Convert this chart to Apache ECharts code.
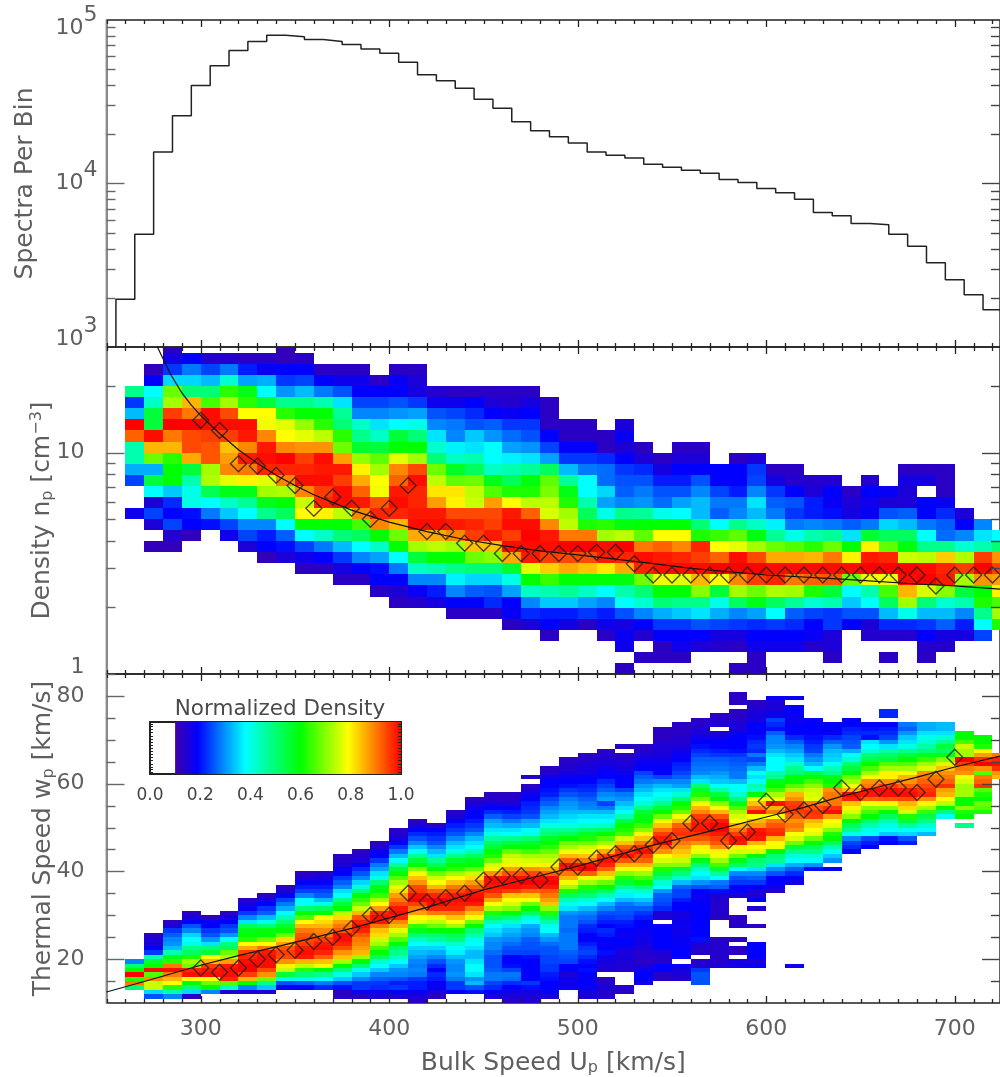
<!DOCTYPE html>
<html><head><meta charset="utf-8">
<style>html,body{margin:0;padding:0;background:#fff;overflow:hidden}#c{width:1000px;height:1077px}</style>
<script src="https://cdn.jsdelivr.net/npm/echarts@6/dist/echarts.min.js"></script>
</head><body><div id="c"></div>
<script>
// ---- data ----
const binCenters=[260,270,280,290,300,310,320,330,340,350,360,370,380,390,400,410,420,430,440,450,460,470,480,490,500,510,520,530,540,550,560,570,580,590,600,610,620,630,640,650,660,670,680,690,700,710,720];
const spectraPerBin=[1958,4897,15570,25930,39810,52480,65160,73960,80800,79070,75860,73960,70900,66400,62500,55080,46200,42500,38200,32800,28900,23900,21000,19300,17660,15560,14900,14300,13130,12590,12070,11570,10580,10130,9310,8770,8020,6640,6340,5690,5590,4900,4130,3270,2580,2090,1690];
const meanSpeeds=[300,310,320,330,340,350,360,370,380,390,400,410,420,430,440,450,460,470,480,490,500,510,520,530,540,550,560,570,580,590,600,610,620,630,640,650,660,670,680,690,700,710,720];
const meanDensity=[14.0,12.6,8.9,8.7,7.9,7.1,5.6,6.3,5.6,5.0,5.6,7.1,4.4,4.4,3.9,3.9,3.5,3.5,3.5,3.5,3.5,3.55,3.55,3.15,2.8,2.8,2.8,2.8,2.8,2.8,2.8,2.8,2.8,2.8,2.8,2.8,2.8,2.8,2.8,2.5,2.8,2.8,2.8];
const meanThermal=[18,17,18,20,21,22,24,25,27,30,30,35,33,34,35,38,39,39,38,41,41,43,44,44,46,47,51,51,47,49,56,53,54,55,59,58,59,59,58,61,66];
const densityFitX=[277,284,290,295,300,310,320,330,340,350,360,380,400,420,440,460,480,500,520,540,560,600,640,680,700,724];
const densityFitY=[30,22.6,18.6,16.4,14.7,12.2,10.3,8.95,7.9,7.1,6.45,5.5,4.85,4.4,4.05,3.8,3.6,3.45,3.3,3.15,3.0,2.8,2.68,2.55,2.5,2.42];
const thermalFitX=[250,270,300,320,340,360,380,400,420,450,480,500,520,540,560,580,600,620,640,660,680,700,724];
const thermalFitY=[12.5,14.9,18.6,20.8,22.8,24.9,27,29.4,31.8,35.8,39,41.2,43.6,46,48.1,50.2,52.4,54.6,57.1,59.3,61.5,63.8,66.3];
// normalized density in percent; each column: top bin index, then bins going downward
const densityColumns=[
[25,48,23,33,100,92,45,45,32,24,0,0,17],
[27,12,19,38,43,55,55,99,85,68,32,55,38,15,24,15,0,12],
[29,13,16,23,35,68,72,95,100,90,85,63,60,60,34,22,19,24,14,12],
[28,19,28,35,50,85,90,100,94,94,86,55,45,40,40,20,19,12],
[28,14,24,33,50,65,99,99,95,93,93,72,73,53,38,28,20],
[28,14,28,42,63,72,94,99,95,84,87,89,77,58,43,34,24,17],
[28,13,21,31,58,63,79,99,98,89,98,90,80,58,47,38,29,24,15],
[28,13,18,32,38,55,79,78,89,98,99,97,77,72,58,48,29,21,19,12],
[29,12,12,19,23,30,48,63,77,79,89,100,97,89,73,60,52,38,26,20,15],
[28,13,19,24,33,48,60,71,77,88,95,97,99,89,75,79,60,38,24,17,13],
[27,13,19,28,45,60,63,74,88,99,98,99,95,97,80,60,43,28,19,13],
[27,13,17,25,36,47,50,63,68,87,98,95,99,99,74,60,50,33,23,16,13],
[27,13,17,19,24,29,43,48,56,71,80,86,92,98,89,65,52,38,29,19,13],
[26,13,19,24,29,36,43,55,67,72,79,78,93,97,89,60,43,31,20,19,13],
[27,13,18,19,25,30,38,55,60,77,89,92,98,99,97,85,68,60,38,28,19,15,13],
[27,13,15,16,23,31,40,50,60,72,94,99,97,97,98,99,86,72,55,43,29,18,14],
[25,14,17,25,29,36,42,50,68,74,81,87,98,99,86,74,60,45,29,21,16],
[25,13,17,24,28,29,37,43,57,67,81,80,94,98,89,72,60,48,37,29,19,13],
[25,13,19,22,25,34,36,45,52,68,74,75,94,97,95,84,68,50,35,26,19,13],
[25,13,15,19,26,30,38,38,43,58,66,87,94,95,98,84,70,50,35,25,22,13],
[25,13,14,18,23,27,31,37,45,52,62,79,98,99,95,99,86,56,40,31,19,18,13],
[25,13,16,19,23,25,30,36,47,59,62,74,92,99,100,99,98,77,60,43,29,22,15],
[24,13,13,13,19,24,31,52,67,69,74,76,89,98,99,95,83,64,45,34,21,19,13],
[22,13,13,19,23,33,47,58,62,72,74,90,100,94,86,60,47,34,21,16],
[22,13,13,19,23,28,38,38,45,52,62,90,100,94,84,60,43,31,23,13],
[21,13,13,22,27,27,35,31,40,63,72,99,98,81,60,38,29,21,17,13],
[22,15,18,15,19,23,25,26,29,48,59,74,100,97,86,59,45,38,25,16,18,17,0,13],
[20,13,15,22,25,28,30,47,60,67,90,99,97,68,50,42,29,19,14,0,13],
[19,13,16,21,25,27,40,60,79,92,98,99,78,60,50,32,23,19,13,13],
[20,13,15,19,21,25,31,38,60,79,89,97,99,77,60,48,34,23,19,17,13],
[20,13,15,19,25,29,33,33,50,62,97,95,99,85,70,48,36,25,19,15],
[18,19,19,24,28,26,38,64,79,92,100,79,55,40,32,24,16,14],
[19,13,19,19,21,28,29,48,67,77,99,100,89,72,52,29,23,16,13,0,13],
[19,15,23,24,29,36,33,43,59,72,94,100,95,68,58,31,22,19,17,13,13],
[18,13,16,23,26,28,37,47,68,86,99,97,73,52,38,23,19,17],
[18,13,14,19,25,23,28,40,66,86,99,90,72,47,26,22,19,17],
[17,14,15,21,21,29,45,63,85,99,92,62,42,24,19,18,14],
[17,14,19,18,20,28,47,68,90,99,93,55,45,23,23,15,15,13],
[16,13,15,16,26,36,60,80,99,68,38,34,25,19],
[17,14,19,17,18,28,56,80,98,100,78,45,38,25,15,14],
[16,18,15,25,35,52,67,97,100,78,65,52,33,22,14,0,13],
[18,13,16,15,15,26,33,52,59,75,100,99,85,72,40,22,14],
[18,13,16,0,19,19,28,38,48,74,99,100,76,50,33,23,19,14,13],
[18,13,13,13,18,22,26,27,48,83,97,98,70,42,33,26,16,14],
[14,15,19,29,42,73,95,72,55,45,29,21,16],
[13,29,36,45,95,100,88,60,62,48,38,24],
[12,38,50,88,95,87,80,65,72,62]];
const thermalColumns=[
[19,29,50,60,100,62,90,50],
[25,13,15,15,18,23,45,56,60,99,66,88,75,75,35,25],
[28,13,15,23,26,29,30,33,45,58,63,90,99,90,85,79,63,45,29],
[30,13,15,19,25,29,35,38,40,48,52,62,72,68,97,99,79,60,50,35,13],
[29,13,18,19,23,25,30,36,50,55,79,85,95,98,99,79,68,60,29],
[30,13,16,19,23,25,30,38,50,52,68,74,87,98,99,99,97,66,43,15],
[33,13,16,18,23,29,36,52,58,60,63,79,86,95,97,99,100,100,95,85,60,29,15],
[34,13,16,19,23,26,33,40,50,59,60,68,79,90,98,99,99,99,94,88,68,47,34,15],
[36,13,15,19,24,28,32,38,45,50,56,60,68,82,87,93,95,94,88,80,75,55,40,25,18],
[39,13,15,18,21,24,29,38,38,50,60,66,79,85,90,93,94,95,98,99,98,85,74,63,50,40,26,19],
[39,14,16,18,21,24,26,33,40,52,60,79,82,85,89,90,95,98,99,97,92,84,78,60,48,38,28,22],
[43,13,14,15,18,19,23,26,29,36,38,48,55,60,74,82,87,90,93,99,99,97,94,88,84,72,60,50,40,34,25,20,13,13],
[44,13,14,15,19,22,25,29,35,42,50,59,63,68,75,85,93,97,99,97,93,90,89,87,85,71,60,50,40,34,29,23,23,18,13],
[46,13,14,18,19,23,28,31,36,40,50,58,60,64,72,79,87,97,99,98,90,84,82,75,72,65,60,52,43,38,34,29,26,23,22,17,15],
[49,13,14,16,19,23,28,33,38,47,55,60,66,72,77,82,87,90,94,98,99,97,89,85,77,72,66,60,52,48,43,38,34,30,29,25,21,23,19,15],
[51,13,15,19,22,25,29,34,38,48,55,60,70,78,84,88,94,95,99,100,95,90,87,79,77,64,58,50,43,38,35,33,31,29,28,29,28,23,21,21,18,15,13],
[50,13,19,21,23,25,29,33,36,47,53,60,68,75,79,85,92,97,100,99,97,90,80,74,68,60,50,47,40,35,32,29,25,22,19,22,21,18,18,15,13],
[53,13,15,19,21,23,25,29,33,36,40,48,56,60,63,72,79,84,90,94,98,99,98,97,90,84,79,72,60,53,50,43,38,37,33,30,29,29,30,28,23,23,19],
[56,13,15,17,19,19,21,23,25,29,33,36,38,45,52,58,60,67,75,82,87,92,97,99,100,98,90,84,78,68,60,50,45,40,38,36,33,33,36,38,38,36,30,33,25,20],
[57,13,14,16,19,22,26,31,33,36,40,46,52,56,60,62,68,76,80,88,99,99,98,97,93,86,79,72,62,52,45,38,36,34,30,29,29,27,25,25,25,26,28,28,24,22,19,15],
[57,13,14,15,19,21,24,28,32,36,38,48,55,60,68,74,77,80,87,93,99,99,99,95,84,79,76,70,60,50,43,36,33,31,29,27,25,24,19,19,20,24,28,27,22,19,17,15,13],
[61,13,0,13,15,17,19,21,22,23,25,31,33,38,40,50,57,60,65,72,76,78,88,94,99,100,98,92,84,79,68,60,52,42,38,32,30,29,26,25,25,24,20,19,19,19,19,19,23,20,16,15,14],
[63,13,14,17,19,19,20,21,24,26,29,31,33,36,40,47,50,57,60,63,68,72,75,80,86,92,99,100,98,93,90,87,84,70,62,52,46,40,38,33,30,27,25,25,24,24,23,23,21,20,19,19,18,15],
[65,13,14,14,16,18,19,20,23,25,28,30,31,33,35,37,40,47,52,60,68,72,78,85,92,99,98,90,85,78,72,62,52,45,40,36,30,28,28,28,27,28,28,28,28,26,25,24,19,19,15,17,17,18],
[66,13,14,15,16,16,19,19,21,22,24,26,28,29,33,36,38,42,50,57,62,68,75,78,84,90,99,100,92,78,72,62,55,50,42,38,33,29,27,25,22,21,19,19,21,23,24,22,20,19,20,19,18,19,18,16,15],
[67,13,14,15,16,17,19,19,22,24,26,29,31,24,28,33,36,38,43,52,60,66,72,79,86,95,99,97,92,84,77,68,60,52,44,38,33,29,25,23,21,19,22,21,19,18,19,20,17,16,15,15,0,13,14,15,14,14],
[68,13,0,13,14,15,16,17,19,19,19,24,28,30,33,36,38,45,55,60,62,65,76,84,92,96,99,93,85,78,70,62,56,47,40,37,33,28,26,25,24,21,20,19,17,19,19,17,15,16,15,15,14,0,0,0,14,13],
[68,13,14,15,17,18,19,24,26,28,31,33,36,38,42,48,55,58,60,64,70,78,84,90,96,99,95,92,85,78,72,65,60,50,42,38,34,30,26,23,21,19,19,18,17,17,16,15,14,14,13,15,17,19,19,16],
[72,13,13,13,14,15,15,16,17,18,19,19,24,29,33,36,38,42,48,55,60,68,78,84,90,95,98,99,92,88,79,76,70,62,55,50,42,38,30,26,25,24,22,15,15,0,18,19,19,19,19,19,15,14,14,19,19,14,13],
[73,13,13,13,14,14,15,17,18,19,21,22,24,26,29,31,36,42,50,60,62,68,78,84,92,95,96,93,90,87,84,82,75,70,55,50,43,33,26,24,24,21,19,19,16,16,18,17,17,17,18,18,19,19,19,0,18,16,15,14],
[74,13,14,15,15,17,19,20,22,24,26,27,28,29,33,36,50,56,62,68,78,85,89,95,97,98,98,96,93,88,80,78,70,58,50,43,38,36,30,25,19,18,18,19,19,19,19,19,19,19,19,20,15,14,14,0,14,14,23,25,25,25],
[75,13,14,15,0,15,17,19,19,21,23,26,27,28,30,32,34,38,45,55,60,70,78,85,93,98,100,100,98,95,93,88,80,78,72,65,55,47,38,28,26,20,15,14,14,14,14,13,0,0,0,0,13,14,14,14,14,14,15],
[80,13,13,13,0,13,13,14,15,15,18,19,19,19,20,23,25,26,27,28,28,33,38,38,42,50,58,65,72,76,79,85,90,95,99,98,80,76,68,58,52,38,29,25,23,19,19,15,0,0,0,0,13,13,14,0,0,13,0,13,13,0,16,17],
[78,13,14,15,16,16,19,19,19,20,22,23,22,28,24,28,33,38,36,38,45,42,60,78,84,90,99,79,85,88,98,99,98,85,79,76,60,50,48,36,29,26,23,19,15,15,19,0,14,0,0,0,13,0,0,0,19,19,19,19,15,19],
[79,18,15,15,16,17,24,22,20,26,29,29,30,33,36,38,38,38,45,48,58,60,65,72,78,99,85,90,79,90,93,96,97,85,79,78,60,50,48,36,30,25,19,19,17,14],
[79,18,0,18,18,18,17,18,19,19,22,26,29,31,34,36,42,48,50,60,60,66,72,85,88,95,96,95,92,88,90,88,79,76,68,55,48,42,38,32,26,22,19,17,0,0,0,0,0,0,0,0,0,0,0,0,0,0,0,0,0,0,17],
[74,18,19,19,19,20,21,23,24,28,30,33,38,55,59,65,70,75,76,77,90,93,96,95,85,82,79,77,68,60,52,48,42,38,30,20],
[73,19,19,18,22,26,30,33,34,35,38,45,48,58,60,62,88,90,90,90,96,99,87,79,77,70,62,60,52,45,38,34,30,0,19],
[74,19,19,21,22,24,25,26,32,38,42,50,55,60,68,72,78,85,99,97,84,80,76,70,60,52,48,40,29,24,22,19],
[73,19,20,22,20,36,38,42,50,54,60,65,72,78,88,90,99,98,92,78,70,65,60,50,45,40,38,24,21,19],
[76,22,22,0,19,21,22,24,30,36,46,52,55,66,72,80,80,88,95,99,99,93,80,70,60,52,45,40,38,34,20,19],
[73,28,26,30,34,36,40,48,55,60,66,72,78,85,88,92,98,99,94,85,82,76,62,55,47,38,35,25,21],
[73,32,32,36,40,42,46,50,58,64,72,76,88,90,92,94,96,97,88,80,72,64,54,48,42,38,33],
[73,33,33,36,42,47,55,52,58,70,76,84,88,90,92,96,87,85,79,74,60,50,38],
[71,60,60,65,75,72,72,100,95,90,88,78,76,72,72,72,60,60,70,62,60,0,48],
[70,60,60,62,80,87,96,100,88,66,90,92,96,66,62,60,68,66,62],
[66,90,97,99,96,88,85]];
const xMajor=[300,400,500,600,700];
const xMinor=[250,260,270,280,290,310,320,330,340,350,360,370,380,390,410,420,430,440,450,460,470,480,490,510,520,530,540,550,560,570,580,590,610,620,630,640,650,660,670,680,690,710,720];
const spectraMajor=[10000],spectraMinor=[2000,3000,4000,5000,6000,7000,8000,9000,20000,30000,40000,50000,60000,70000,80000,90000];
const densityMajor=[10],densityMinor=[2,3,4,5,6,7,8,9,20];
const thermalMajor=[20,40,60,80],thermalMinor=[15,25,30,35,45,50,55,65,70,75,85];
const colorStops=[[10,'#4000a8'],[19,'#0000ff'],[38,'#00ffff'],[60,'#00ff00'],[79,'#ffff00'],[100,'#ff0000']];
const legendLabels=[0,0.2,0.4,0.6,0.8,1.0];
const legendEdgeTicks=[0.04,0.09,0.14,0.2,0.26,0.32,0.38,0.44,0.5,0.56,0.62,0.68,0.74,0.8,0.86,0.92,0.97];

// ---- helpers ----
const FONT='"DejaVu Sans"',GRAY='#5f5f5f',XMIN=250,XMAX=724;
function hex(c){return [1,3,5].map(i=>parseInt(c.substr(i,2),16));}
function colorOf(v){
  for(let i=1;i<colorStops.length;i++){
    if(v<=colorStops[i][0]){
      const a=colorStops[i-1],b=colorStops[i],t=Math.max(0,(v-a[0])/(b[0]-a[0]));
      const A=hex(a[1]),B=hex(b[1]);
      return 'rgb('+A.map((x,j)=>Math.round(x+(B[j]-x)*t)).join(',')+')';
    }
  }
  return '#ff0000';
}
function cellItems(cols,loEdge,hiEdge){
  const out=[];
  cols.forEach((c,i)=>{for(let j=1;j<c.length;j++){
    if(c[j]>0){const b=c[0]-(j-1);out.push([binCenters[i],binCenters[i]+10,loEdge(b),hiEdge(b),c[j]]);}
  }});
  return out;
}
function cellSeries(grid,data){
  return {type:'custom',xAxisIndex:grid,yAxisIndex:grid,data,clip:true,silent:true,animation:false,z:2,
    encode:{x:[0,1],y:[2,3]},
    renderItem:(p,api)=>{
      const a=api.coord([api.value(0),api.value(2)]),b=api.coord([api.value(1),api.value(3)]);
      const x0=Math.round(a[0]),x1=Math.round(b[0]),y0=Math.round(b[1]),y1=Math.round(a[1]);
      return {type:'rect',shape:{x:x0,y:y0,width:x1-x0,height:y1-y0},style:{fill:colorOf(api.value(4))}};
    }};
}
function tickSeries(grid,yMin,yMaj,yMin2){
  const data=[];
  xMajor.forEach(v=>data.push([0,v,7]));
  xMinor.forEach(v=>data.push([0,v,4]));
  yMaj.forEach(v=>data.push([1,v,18]));
  yMin2.forEach(v=>data.push([1,v,9]));
  return {type:'custom',xAxisIndex:grid,yAxisIndex:grid,data,clip:false,silent:true,animation:false,z:6,
    encode:{x:-1,y:-1},
    renderItem:(p,api)=>{
      const cs=p.coordSys,L=api.value(2),st={stroke:'#222',lineWidth:1.3};
      const mk=(x1,y1,x2,y2)=>({type:'line',shape:{x1,y1,x2,y2},style:st});
      if(api.value(0)===0){
        const x=Math.round(api.coord([api.value(1),yMin])[0])+0.5;
        return {type:'group',children:[mk(x,cs.y,x,cs.y+L),mk(x,cs.y+cs.height,x,cs.y+cs.height-L)]};
      }
      const y=Math.round(api.coord([XMIN,api.value(1)])[1])+0.5;
      return {type:'group',children:[
        {type:'line',shape:{x1:cs.x,y1:y,x2:cs.x+L,y2:y},style:{stroke:'#666',lineWidth:1.4}},
        {type:'line',shape:{x1:cs.x+cs.width,y1:y,x2:cs.x+cs.width-L,y2:y},style:{stroke:'#444',lineWidth:1.4}}]};
    }};
}
function diamonds(grid,xs,ys){
  return {type:'scatter',xAxisIndex:grid,yAxisIndex:grid,data:ys.map((y,i)=>[xs[i],y]),symbol:'diamond',symbolSize:16,
    itemStyle:{color:'transparent',borderColor:'#222',borderWidth:1.4},silent:true,animation:false,z:5,clip:false};
}
function fitLine(grid,xs,ys){
  return {type:'line',xAxisIndex:grid,yAxisIndex:grid,data:ys.map((y,i)=>[xs[i],y]),symbol:'none',smooth:false,
    lineStyle:{color:'#111',width:1.2},silent:true,animation:false,z:4,clip:true};
}
const txt={fontFamily:FONT,fontSize:22,color:GRAY};
const supRich={
  b5:{...txt,padding:[16,0,0,0]}, e5:{...txt,padding:[16,0,26,0]},
  b4:{...txt,padding:[0,0,0,0]},  e4:{...txt,padding:[0,0,26,0]},
  b3:{...txt,padding:[0,0,16,0]}, e3:{...txt,padding:[0,0,42,0]}};
const nameStyle={fontFamily:FONT,fontSize:25,color:GRAY,rich:{
  sub:{fontFamily:FONT,fontSize:16,color:GRAY,padding:[10,0,0,0]},
  sup:{fontFamily:FONT,fontSize:16,color:GRAY,padding:[0,0,12,0]}}};
function xAx(grid,labels){
  return {type:'value',gridIndex:grid,min:XMIN,max:XMAX,position:'bottom',splitLine:{show:false},axisTick:{show:false},
    axisLine:{show:false},
    axisLabel:labels?{show:true,customValues:xMajor,fontFamily:FONT,fontSize:22,color:GRAY,margin:15}:{show:false},
    name:labels?'Bulk Speed U{sub|p} [km/s]':'',nameLocation:'middle',nameGap:47,nameTextStyle:nameStyle};
}
const yLine={show:true,onZero:false,lineStyle:{color:'#8a8a8a',width:2}};

const spectraLine=[[binCenters[0]-5,1000]];
binCenters.forEach((c,i)=>{spectraLine.push([c-5,spectraPerBin[i]],[c+5,spectraPerBin[i]]);});

const grids=[
 {left:106.5,top:20,width:898.5,height:327,show:true,borderColor:'#222',borderWidth:1.4,backgroundColor:'transparent'},
 {left:106.5,top:347,width:898.5,height:327,show:true,borderColor:'#222',borderWidth:1.4,backgroundColor:'transparent'},
 {left:106.5,top:674,width:898.5,height:329,show:true,borderColor:'#222',borderWidth:1.4,backgroundColor:'transparent'},
 {left:150,top:722,width:251,height:52,show:true,borderColor:'#222',borderWidth:2,backgroundColor:'transparent',z:8}
];
const option={
 animation:false,backgroundColor:'#fff',
 title:{text:'Normalized Density',left:275,top:693,textAlign:'center',textStyle:{fontFamily:FONT,fontSize:21.5,fontWeight:'normal',color:'#4a4a4a'}},
 grid:grids,
 xAxis:[xAx(0,false),xAx(1,false),xAx(2,true),
  {type:'value',gridIndex:3,min:0,max:1,splitLine:{show:false},axisLine:{show:false},axisTick:{show:false},
   axisLabel:{customValues:legendLabels,fontFamily:FONT,fontSize:17,color:'#444',margin:13,formatter:v=>v.toFixed(1)}}],
 yAxis:[
  {type:'log',logBase:10,gridIndex:0,min:1000,max:100000,splitLine:{show:false},axisTick:{show:false},axisLine:yLine,
   axisLabel:{fontFamily:FONT,fontSize:22,color:GRAY,margin:9,
     formatter:v=>{const e=Math.round(Math.log10(v));return '{b'+e+'|10}{e'+e+'|'+e+'}';},rich:supRich},
   name:'Spectra Per Bin',nameLocation:'middle',nameMoveOverlap:false,nameGap:69,nameTextStyle:nameStyle},
  {type:'log',logBase:10,gridIndex:1,min:1,max:30,splitLine:{show:false},axisTick:{show:false},axisLine:yLine,
   axisLabel:{fontFamily:FONT,fontSize:22,color:GRAY,margin:22,showMaxLabel:false,
     formatter:v=>(v>=29?'':(v<2?'{one|1}':String(Math.round(v)))),rich:{one:{...txt,padding:[0,0,14,0]}}},
   name:'Density n{sub|p} [cm{sup|−3}]',nameLocation:'middle',nameMoveOverlap:false,nameGap:50,nameTextStyle:nameStyle},
  {type:'value',gridIndex:2,min:10,max:85,splitLine:{show:false},axisTick:{show:false},axisLine:yLine,
   axisLabel:{customValues:thermalMajor,fontFamily:FONT,fontSize:22,color:GRAY,margin:22},
   name:'Thermal Speed w{sub|p} [km/s]',nameLocation:'middle',nameMoveOverlap:false,nameGap:50,nameTextStyle:nameStyle},
  {type:'value',gridIndex:3,min:0,max:1,show:false,splitLine:{show:false}}
 ],
 series:[
  {type:'line',xAxisIndex:0,yAxisIndex:0,data:spectraLine,symbol:'none',lineStyle:{color:'#222',width:1.5},silent:true,animation:false,clip:true,z:3},
  tickSeries(0,1000,spectraMajor,spectraMinor),
  cellSeries(1,cellItems(densityColumns,b=>Math.pow(10,0.05*b),b=>Math.pow(10,0.05*(b+1)))),
  fitLine(1,densityFitX,densityFitY),
  diamonds(1,meanSpeeds,meanDensity),
  tickSeries(1,1,densityMajor,densityMinor),
  cellSeries(2,cellItems(thermalColumns,b=>b,b=>b+1)),
  fitLine(2,thermalFitX,thermalFitY),
  diamonds(2,meanSpeeds,meanThermal),
  tickSeries(2,10,thermalMajor,thermalMinor),
  {type:'custom',xAxisIndex:3,yAxisIndex:3,data:[[0.1,1,0,1]],silent:true,animation:false,z:9,clip:true,encode:{x:[0,1],y:[2,3]},
   renderItem:(p,api)=>{
     const a=api.coord([api.value(0),api.value(2)]),b=api.coord([api.value(1),api.value(3)]);
     const st=colorStops.map(s=>({offset:(s[0]-10)/90,color:s[1]}));
     return {type:'rect',shape:{x:a[0],y:b[1],width:b[0]-a[0],height:a[1]-b[1]},
       style:{fill:new echarts.graphic.LinearGradient(0,0,1,0,st)}};
   }},
  {type:'custom',xAxisIndex:3,yAxisIndex:3,data:legendEdgeTicks.map(v=>[v]),silent:true,animation:false,z:10,clip:false,encode:{x:-1,y:-1},
   renderItem:(p,api)=>{
     const cs=p.coordSys,y=Math.round(api.coord([0,api.value(0)])[1])+0.5,st={stroke:'#222',lineWidth:1};
     return {type:'group',children:[
       {type:'line',shape:{x1:cs.x,y1:y,x2:cs.x+3,y2:y},style:st},
       {type:'line',shape:{x1:cs.x+cs.width,y1:y,x2:cs.x+cs.width-3,y2:y},style:st}]};
   }}
 ]
};
const chart=echarts.init(document.getElementById('c'),null,{renderer:'canvas',width:1000,height:1077});
chart.setOption(option);
</script>
</body></html>
